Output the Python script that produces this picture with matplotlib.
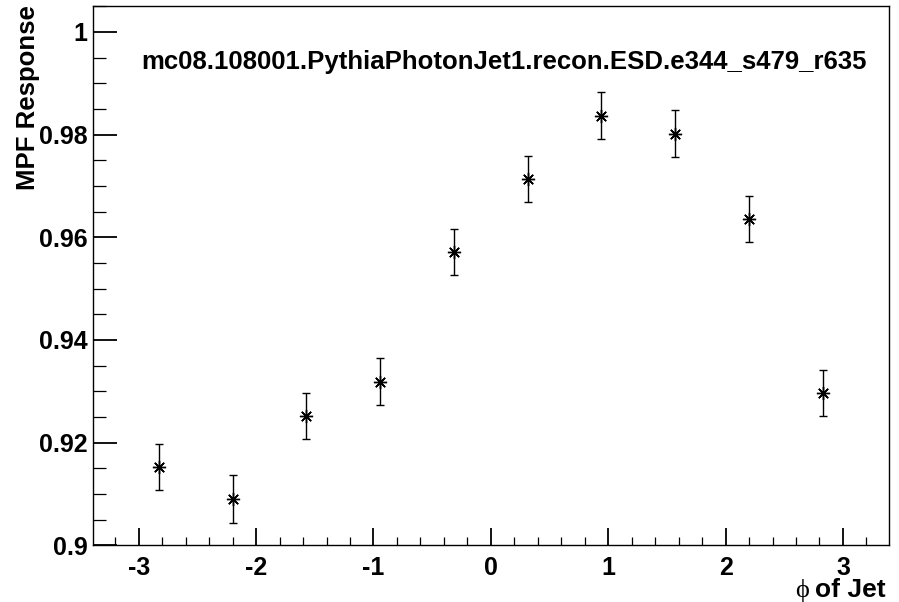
import numpy as np
import matplotlib.pyplot as plt
from matplotlib.ticker import MultipleLocator, FormatStrFormatter

# ---- MPF response per phi bin ----
phi_centers = [-2.827, -2.199, -1.571, -0.942, -0.314, 0.314, 0.942, 1.571, 2.199, 2.827]
response = [0.9153, 0.9090, 0.9252, 0.9319, 0.9571, 0.9714, 0.9837, 0.9802, 0.9635, 0.9297]
errors = [0.0045, 0.0047, 0.0045, 0.0045, 0.0045, 0.0045, 0.0045, 0.0045, 0.0045, 0.0045]

title = 'mc08.108001.PythiaPhotonJet1.recon.ESD.e344_s479_r635'

plt.rcParams['font.family'] = ['Liberation Sans', 'DejaVu Sans']
plt.rcParams['font.weight'] = 'bold'

fig = plt.figure(figsize=(8.99, 6.02), dpi=100)
ax = fig.add_axes([93/899, 1 - 545.3/602, (888.7 - 93)/899, (545.3 - 5.7)/602])

ax.errorbar(phi_centers, response, yerr=errors, fmt='none', ecolor='black',
            elinewidth=1.0, capsize=3, capthick=1.0)
ax.plot(phi_centers, response, linestyle='none', marker=(8, 2, 0),
        markersize=9.5, color='black', markeredgewidth=1.0)

ax.set_xlim(-3.39, 3.39)
ax.set_ylim(0.9, 1.0051)

ax.xaxis.set_major_locator(MultipleLocator(1))
ax.xaxis.set_minor_locator(MultipleLocator(0.2))
ax.yaxis.set_major_locator(MultipleLocator(0.02))
ax.yaxis.set_minor_locator(MultipleLocator(0.005))
ax.xaxis.set_major_formatter(FormatStrFormatter('%g'))
ax.yaxis.set_major_formatter(FormatStrFormatter('%g'))

ax.tick_params(axis='x', which='major', direction='in', length=12, width=1.3,
               labelsize=18, pad=8)
ax.tick_params(axis='x', which='minor', direction='in', length=6, width=0.9)
ax.tick_params(axis='y', which='major', direction='in', length=17.5, width=1.3,
               labelsize=18, pad=4)
ax.tick_params(axis='y', which='minor', direction='in', length=9, width=0.9)
for lab in ax.get_xticklabels() + ax.get_yticklabels():
    lab.set_fontweight('bold')

for sp in ax.spines.values():
    sp.set_linewidth(1.0)

fig.text(504/899, 1 - 62/602, title, ha='center', va='center',
         fontsize=18.5, fontweight='bold')

fig.text(28/899, 1 - 5/602, 'MPF Response', rotation=90, ha='center', va='top',
         fontsize=18.5, fontweight='bold')

fig.text(886/899, 1 - 597/602, 'of Jet', ha='right', va='baseline',
         fontsize=19, fontweight='bold')
fig.text(809/899, 1 - 597/602, '\u03d5', ha='right', va='baseline',
         fontsize=19, fontweight='normal', family=['Liberation Serif', 'DejaVu Serif'])

fig.savefig('out.png', dpi=100)
